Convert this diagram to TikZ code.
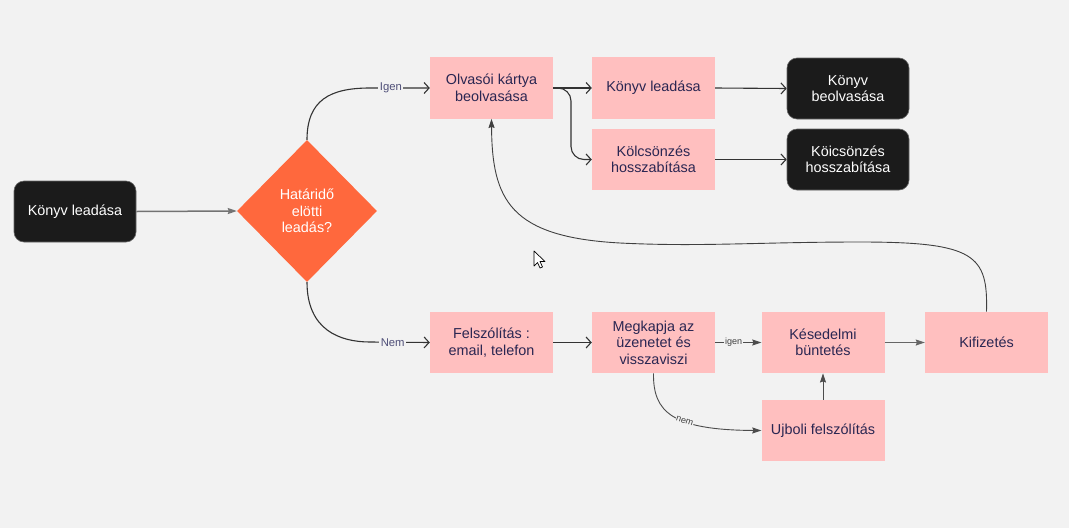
\documentclass[tikz,border=0pt]{standalone}
\usepackage{fontspec}
\setmainfont{Liberation Sans}
\usetikzlibrary{shapes.geometric,arrows.meta,calc}
\definecolor{bg}{HTML}{F2F2F2}
\definecolor{pinkbox}{HTML}{FFBFBF}
\definecolor{blackbox}{HTML}{1B1B1B}
\definecolor{orangedia}{HTML}{FF683D}
\definecolor{navytext}{HTML}{2A2652}
\definecolor{linec}{HTML}{333333}
\definecolor{lblc}{HTML}{4F4F78}
\begin{document}
\begin{tikzpicture}[x=1pt,y=-1pt,
 mainfont/.style={font=\fontsize{14.4}{16.5}\selectfont},
 box/.style={rectangle, fill=pinkbox, minimum width=123pt, minimum height=61.5pt, inner sep=0pt, align=center, text=navytext, mainfont},
 term/.style={rectangle, rounded corners=10pt, fill=blackbox, draw=black!60, line width=0.6pt, minimum width=122pt, minimum height=61pt, inner sep=0pt, align=center, text=white, mainfont},
 decision/.style={diamond, fill=orangedia, minimum width=140pt, minimum height=142pt, inner sep=0pt, align=center, text=white, mainfont},
 conn/.style={draw=linec, line width=1.1pt},
 openarr/.style={conn, -{Straight Barb[length=5pt,width=11pt]}},
 fillarr/.style={conn, -{Stealth[length=9pt,width=6pt,inset=1pt]}},
 lbl/.style={fill=bg, inner sep=1.5pt, text=lblc, font=\fontsize{11.3}{12}\selectfont},
 slbl/.style={fill=bg, inner sep=1pt, text=black!75, font=\fontsize{9}{10}\selectfont},
]
\fill[bg] (0,0) rectangle (1069,528);
\useasboundingbox (0,0) rectangle (1069,528);

\node[term] (kl) at (75,211.5) {Könyv leadása};
\node[decision] (dia) at (307,211) {Határidő\\elötti\\leadás?};
\node[box] (olv) at (491.5,88) {Olvasói kártya\\beolvasása};
\node[box] (kle) at (653.5,88) {Könyv leadása};
\node[term] (kbe) at (848,88.5) {Könyv\\beolvasása};
\node[box] (kol) at (653.5,159.5) {Kölcsönzés\\hosszabítása};
\node[term] (koi) at (848,159.5) {Köicsönzés\\hosszabítása};
\node[box] (fel) at (491.5,342.5) {Felszólítás :\\email, telefon};
\node[box] (meg) at (653.5,342.5) {Megkapja az\\üzenetet és\\visszaviszi};
\node[box] (kes) at (823,342.5) {Késedelmi\\büntetés};
\node[box] (kif) at (986.5,342.5) {Kifizetés};
\node[box] (ujb) at (823,430.5) {Ujboli felszólítás};

\draw[fillarr, draw=black!55, line width=1.5pt] (kl.east) -- (dia.west);
\draw[openarr] (dia.north) .. controls (307,100) and (330,88) .. (370,88) -- node[lbl, pos=0.35]{Igen} (olv.west);
\draw[openarr] (dia.south) .. controls (307,330) and (340,342) .. (370,342) -- node[lbl, pos=0.38]{Nem} (fel.west);
\draw[openarr] (olv.east) -- (kle.west);
\draw[openarr, rounded corners=13pt] (olv.east) -- (571,88) -- (571,159.5) -- (kol.west);
\draw[openarr] (kle.east) -- (kbe.west);
\draw[openarr] (kol.east) -- (koi.west);
\draw[openarr] (fel.east) -- (meg.west);
\draw[fillarr, line width=0.9pt, draw=black!70] (meg.east) -- node[slbl, pos=0.4]{igen} (kes.west);
\draw[fillarr, line width=0.9pt, draw=black!70] (meg.south) .. controls (653,412) and (672,430) .. node[slbl, pos=0.6, rotate=-18, inner sep=0.5pt]{nem} (ujb.west);
\draw[fillarr, line width=0.9pt, draw=black!70] (ujb.north) -- (kes.south);
\draw[fillarr, line width=1.1pt, draw=black!60] (kes.east) -- (kif.west);
\draw[fillarr, line width=0.9pt, draw=black!75] (kif.north) .. controls (988,255) and (975,242) .. (860,242) .. controls (760,242) and (700,247) .. (620,243) .. controls (510,237) and (492,200) .. (olv.south);

\draw[fill=white, draw=black, line width=0.7pt, line join=round] (534,251) -- (534,266) -- (537.5,262.5) -- (540,268) -- (542.5,267) -- (540,261.5) -- (545,261.5) -- cycle;
\end{tikzpicture}
\end{document}
